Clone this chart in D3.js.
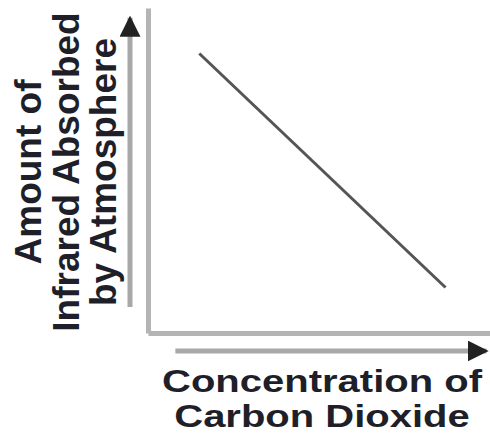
<!DOCTYPE html>
<html>
<head>
<meta charset="utf-8">
<script src="https://cdn.jsdelivr.net/npm/d3@7"></script>
<style>
  html, body { margin: 0; padding: 0; background: #fff; }
  svg { display: block; }
  text { font-family: "Liberation Sans", Arial, Helvetica, sans-serif; font-weight: bold; fill: #1f1f2a; }
</style>
</head>
<body>
<svg id="chart" width="490" height="437"></svg>
<script>
// Relationship: more CO2 -> less infrared absorbed (schematic, unitless 0-100)
const concentration = [15, 87];
const absorbed = [86, 14];
const xLabelLines = ["Concentration of", "Carbon Dioxide"];
const yLabelLines = ["Amount of", "Infrared Absorbed", "by Atmosphere"];

const W = 490, H = 437;
const svg = d3.select("#chart");

const x = d3.scaleLinear().domain([0, 100]).range([148, 490]);
const y = d3.scaleLinear().domain([0, 100]).range([333, 8]);

svg.append("defs").append("marker")
  .attr("id", "head")
  .attr("viewBox", "0 0 10 10")
  .attr("refX", 9).attr("refY", 5)
  .attr("markerWidth", 4.2).attr("markerHeight", 4.2)
  .attr("markerUnits", "strokeWidth")
  .attr("orient", "auto")
  .append("path").attr("d", "M0,0 L10,5 L0,10 Z").attr("fill", "#222");

// Frame axes (no ticks)
const axisStyle = g => {
  g.select(".domain").attr("stroke", "#b4b4b4").attr("stroke-width", 5);
  g.selectAll(".tick").remove();
};
svg.append("g")
  .attr("transform", `translate(0,${y(0)})`)
  .call(d3.axisBottom(x).tickValues([]).tickSizeOuter(0))
  .call(axisStyle);
svg.append("g")
  .attr("transform", `translate(${x(0)},0)`)
  .call(d3.axisLeft(y).tickValues([]).tickSizeOuter(0))
  .call(axisStyle);

// Direction arrows beside the axes
svg.append("line")
  .attr("x1", x(8)).attr("x2", x(99))
  .attr("y1", y(0) + 18).attr("y2", y(0) + 18)
  .attr("stroke", "#a8a8a8").attr("stroke-width", 5)
  .attr("marker-end", "url(#head)");
svg.append("line")
  .attr("x1", x(0) - 18).attr("x2", x(0) - 18)
  .attr("y1", y(8)).attr("y2", y(97))
  .attr("stroke", "#a8a8a8").attr("stroke-width", 5)
  .attr("marker-end", "url(#head)");

// Trend line
const pts = concentration.map((c, i) => [c, absorbed[i]]);
svg.append("path")
  .datum(pts)
  .attr("d", d3.line().x(d => x(d[0])).y(d => y(d[1])))
  .attr("fill", "none")
  .attr("stroke", "#555")
  .attr("stroke-width", 3);

// X axis title
const xt = svg.append("g").attr("transform", "translate(322,392) scale(1,0.78)");
xt.selectAll("text").data(xLabelLines).join("text")
  .attr("x", 0)
  .attr("y", (d, i) => i * 45)
  .attr("text-anchor", "middle")
  .attr("font-size", 40)
  .text(d => d);

// Y axis title
const yt = svg.append("g").attr("transform", "translate(0,172) rotate(-90)");
yt.selectAll("text").data(yLabelLines).join("text")
  .attr("x", 0)
  .attr("y", (d, i) => 41 + i * 37.5)
  .attr("text-anchor", "middle")
  .attr("font-size", 37)
  .text(d => d);
</script>
</body>
</html>
